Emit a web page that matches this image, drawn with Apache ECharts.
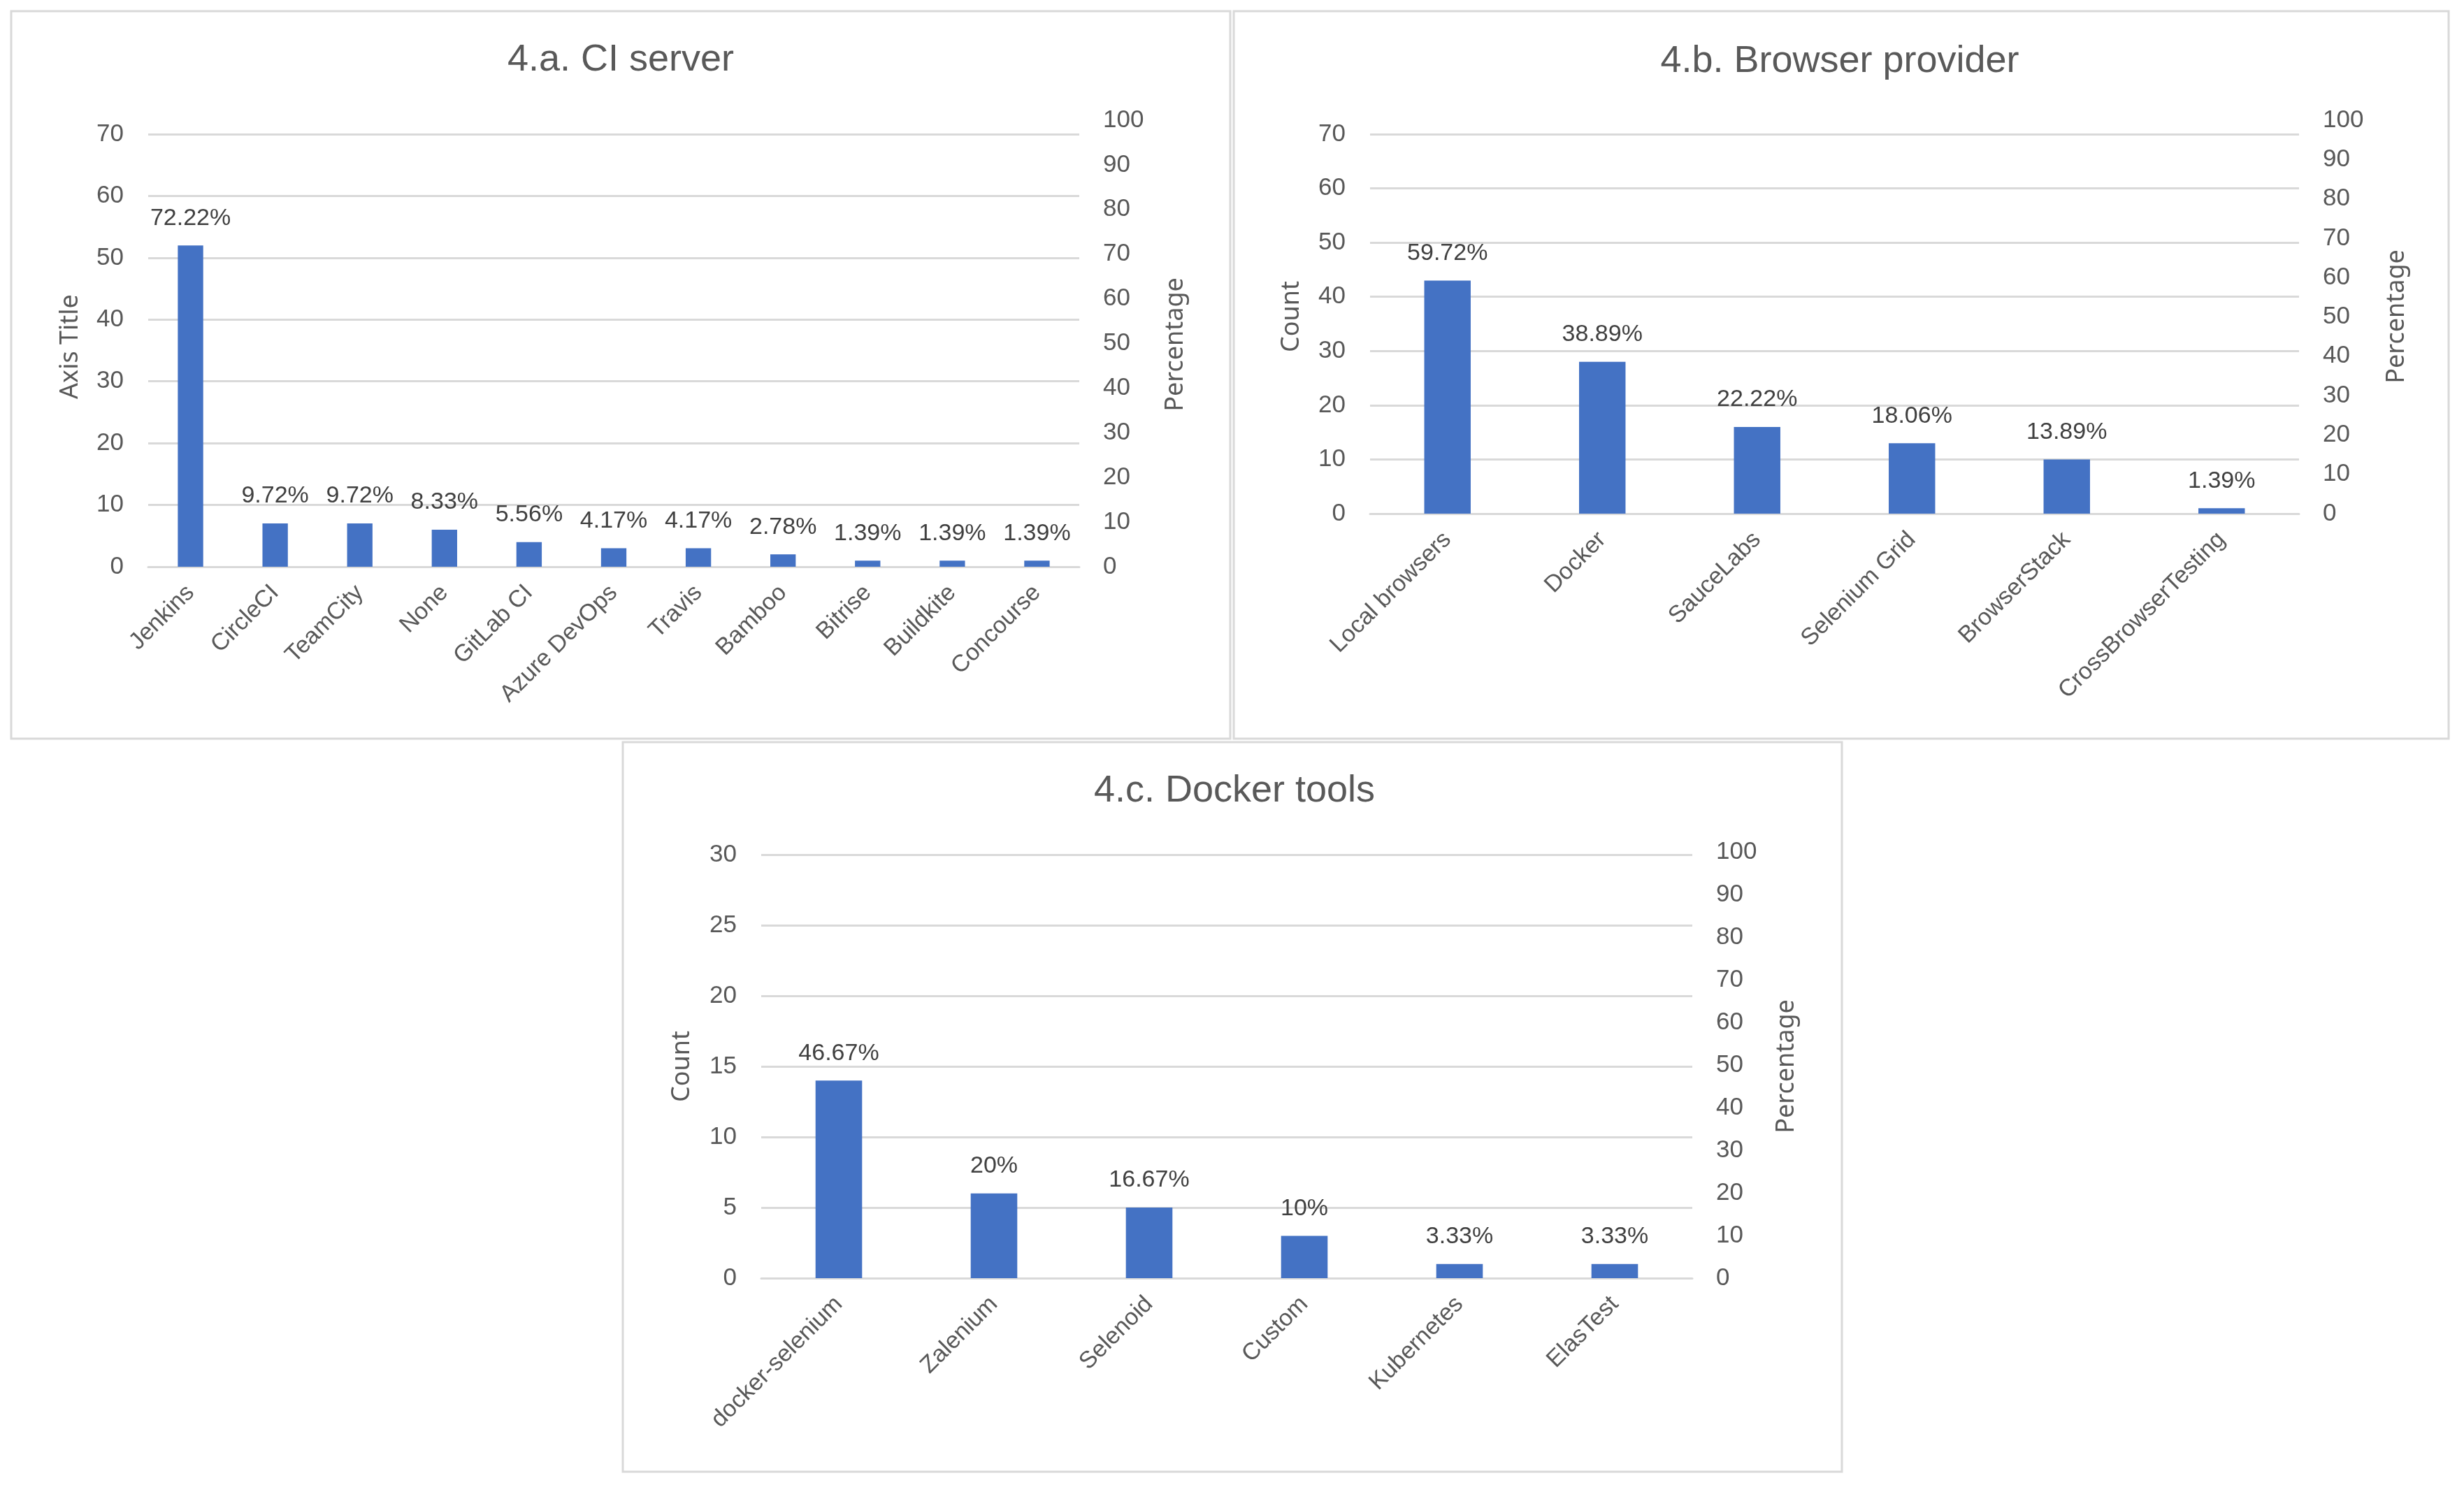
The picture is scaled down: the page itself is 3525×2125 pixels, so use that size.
<!DOCTYPE html>
<html lang="en" style="height:100%">
<head>
    <meta charset="UTF-8">
    <title>CI server, browser provider, Docker tools</title>
    <script src="https://cdn.jsdelivr.net/npm/echarts@6/dist/echarts.min.js"></script>
</head>
<body style="height:100%;margin:0;background:#fff">
<div id="main" style="width:100%;height:100%;"></div>
<script type="text/javascript">
    // 4.a CI server
    var ciNames = ['Jenkins', 'CircleCI', 'TeamCity', 'None', 'GitLab CI', 'Azure DevOps', 'Travis', 'Bamboo', 'Bitrise', 'Buildkite', 'Concourse'];
    var ciCounts = [52, 7, 7, 6, 4, 3, 3, 2, 1, 1, 1];
    var ciPct = ['72.22%', '9.72%', '9.72%', '8.33%', '5.56%', '4.17%', '4.17%', '2.78%', '1.39%', '1.39%', '1.39%'];
    // 4.b Browser provider
    var bpNames = ['Local browsers', 'Docker', 'SauceLabs', 'Selenium Grid', 'BrowserStack', 'CrossBrowserTesting'];
    var bpCounts = [43, 28, 16, 13, 10, 1];
    var bpPct = ['59.72%', '38.89%', '22.22%', '18.06%', '13.89%', '1.39%'];
    // 4.c Docker tools
    var dtNames = ['docker-selenium', 'Zalenium', 'Selenoid', 'Custom', 'Kubernetes', 'ElasTest'];
    var dtCounts = [14, 6, 5, 3, 1, 1];
    var dtPct = ['46.67%', '20%', '16.67%', '10%', '3.33%', '3.33%'];

    var FONT = "'Liberation Sans Narrow', 'Arial Narrow', 'Liberation Sans', sans-serif";
    var TXT = '#595959';
    var GRIDC = '#d9d9d9';
    var BAR = '#4472C4';

    var myChart = echarts.init(document.getElementById('main'));

    function catAxis(gi, names, show) {
        return {
            type: 'category', gridIndex: gi, data: names, show: show,
            axisLine: {show: true, lineStyle: {color: GRIDC, width: 3}},
            axisTick: {show: false},
            axisLabel: {interval: 0, rotate: 45, margin: 32, fontSize: 34, color: TXT, fontFamily: FONT}
        };
    }
    function leftAxis(gi, max, step) {
        return {
            type: 'value', gridIndex: gi, min: 0, max: max, interval: step,
            axisLine: {show: false}, axisTick: {show: false},
            axisLabel: {margin: 35, fontSize: 35, color: TXT, fontFamily: FONT},
            splitLine: {lineStyle: {color: GRIDC, width: 3}}
        };
    }
    function rightAxis(gi) {
        return {
            type: 'value', gridIndex: gi, position: 'right', min: 0, max: 100, interval: 10,
            axisLine: {show: false}, axisTick: {show: false}, splitLine: {show: false},
            axisLabel: {margin: 34, fontSize: 35, color: TXT, fontFamily: FONT}
        };
    }
    function barSeries(ai, counts, pct) {
        return {
            type: 'bar', xAxisIndex: ai, yAxisIndex: ai, data: counts, barWidth: '30%',
            itemStyle: {color: BAR},
            label: {
                show: true, position: 'top', distance: 22, fontSize: 34, color: '#404040', fontFamily: FONT,
                formatter: function (p) { return pct[p.dataIndex]; }
            }
        };
    }
    function txt(x, y, s, size, rot) {
        return {
            type: 'text', x: x, y: y, rotation: rot || 0,
            style: {text: s, fontSize: size, fill: TXT, fontFamily: rot ? "'Noto Sans', sans-serif" : FONT,
                    align: 'center', verticalAlign: 'middle'}
        };
    }
    function box(x1, y1, x2, y2) {
        return {type: 'rect', shape: {x: x1, y: y1, width: x2 - x1, height: y2 - y1},
                style: {fill: null, stroke: GRIDC, lineWidth: 3}, z: -1};
    }

    option = {
        backgroundColor: '#fff',
        animation: false,
        grid: [
            {left: 212, top: 192, width: 1332, height: 619},
            {left: 212, top: 172, width: 1332, height: 639},
            {left: 1960, top: 192, width: 1329, height: 543},
            {left: 1960, top: 172, width: 1329, height: 563},
            {left: 1089, top: 1223, width: 1332, height: 606},
            {left: 1089, top: 1219, width: 1332, height: 610}
        ],
        xAxis: [
            catAxis(0, ciNames, true), catAxis(1, ciNames, false),
            catAxis(2, bpNames, true), catAxis(3, bpNames, false),
            catAxis(4, dtNames, true), catAxis(5, dtNames, false)
        ],
        yAxis: [
            leftAxis(0, 70, 10), rightAxis(1),
            leftAxis(2, 70, 10), rightAxis(3),
            leftAxis(4, 30, 5), rightAxis(5)
        ],
        series: [
            barSeries(0, ciCounts, ciPct),
            barSeries(2, bpCounts, bpPct),
            barSeries(4, dtCounts, dtPct)
        ],
        graphic: [
            box(16, 16, 1760, 1057),
            box(1765, 16, 3503, 1057),
            box(891, 1062, 2635, 2106),
            txt(888, 86, '4.a. CI server', 54),
            txt(2632, 88, '4.b. Browser provider', 54),
            txt(1766, 1132, '4.c. Docker tools', 54),
            txt(101, 496, 'Axis Title', 36, Math.PI / 2),
            txt(1682, 493, 'Percentage', 36, Math.PI / 2),
            txt(1848, 453, 'Count', 36, Math.PI / 2),
            txt(3429, 453, 'Percentage', 36, Math.PI / 2),
            txt(976, 1526, 'Count', 36, Math.PI / 2),
            txt(2556, 1526, 'Percentage', 36, Math.PI / 2)
        ]
    };
    myChart.setOption(option);
</script>
</body>
</html>
